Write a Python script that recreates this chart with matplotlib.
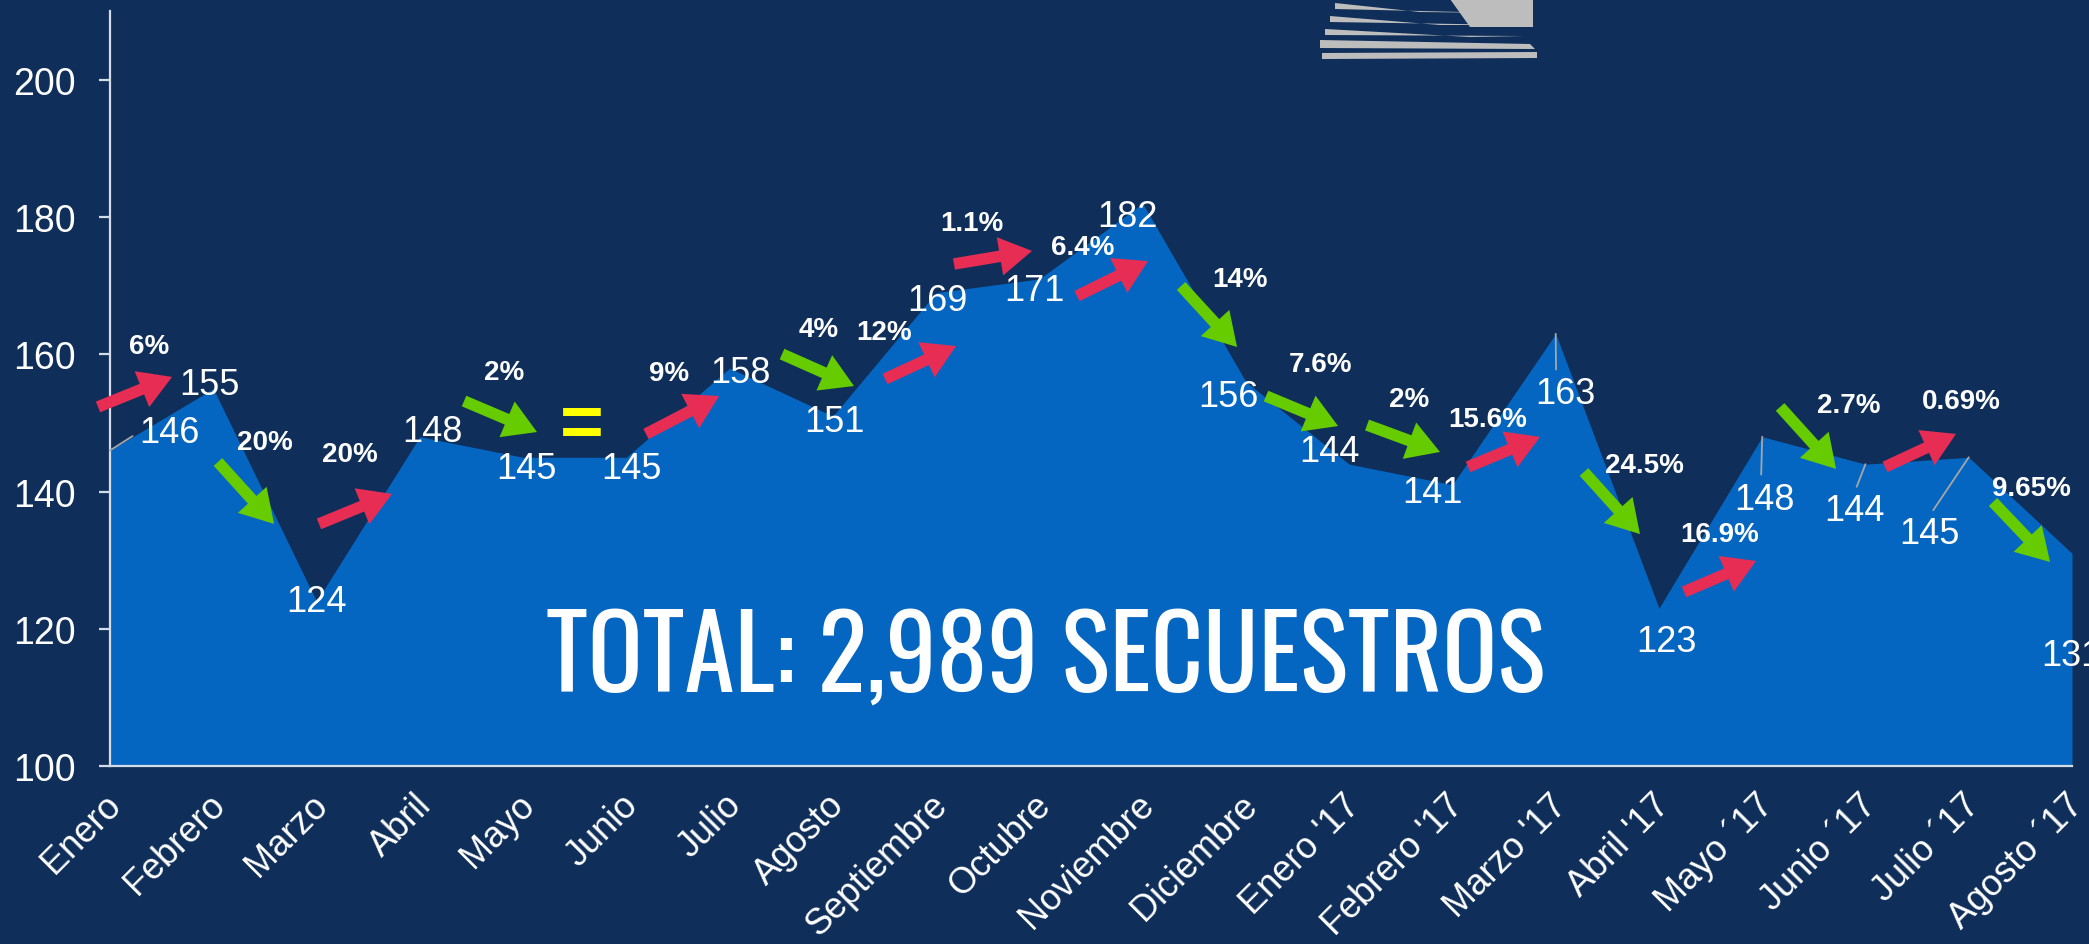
import matplotlib
matplotlib.use('Agg')
import matplotlib.pyplot as plt
import matplotlib.transforms as mtransforms
from matplotlib import font_manager as fm
from matplotlib.patches import Polygon
import numpy as np

# ---------------- data ----------------
meses = ['Enero', 'Febrero', 'Marzo', 'Abril', 'Mayo', 'Junio', 'Julio', 'Agosto',
         'Septiembre', 'Octubre', 'Noviembre', 'Diciembre', "Enero '17", "Febrero '17",
         "Marzo '17", "Abril '17", "Mayo \u00b417", "Junio \u00b417", "Julio \u00b417",
         "Agosto \u00b417"]
secuestros = [146, 155, 124, 148, 145, 145, 158, 151, 169, 171, 182, 156, 144, 141,
              163, 123, 148, 144, 145, 131]
cambios = ['6%', '20%', '20%', '2%', '=', '9%', '4%', '12%', '1.1%', '6.4%', '14%',
           '7.6%', '2%', '15.6%', '24.5%', '16.9%', '2.7%', '0.69%', '9.65%']
total_texto = 'TOTAL: 2,989 SECUESTROS'
y_ticks = [100, 120, 140, 160, 180, 200]

# ---------------- layout / style (offsets in points) ----------------
val_off = [(42.5, 13.2), (-2.4, 2.7), (0, 0), (8.8, 3.4), (2.2, -8.4), (3.4, -8.4),
           (7.5, -2.8), (0.9, -3.5), (0.6, -6.0), (-3.8, -8.0), (-11.2, -9.7),
           (-12.9, -10.2), (-14.5, 8.8), (-14.7, -5.3), (6.8, -43.3), (5.1, -24.3),
           (1.3, -44.9), (-8.2, -33.7), (-28.6, -55.2), (-0.7, -73.2)]
leader = {0: (0.0, 0.5), 14: (0.35, 1.0), 16: (0.45, 1.0), 17: (0.5, 1.0), 18: (0.5, 1.0)}
tail_off = [(-45.8, 9.1), (-33.8, 23.8), (-35.4, -3.5), (-5.3, 33.1), None, (-23.0, -15.3),
            (0.6, 27.4), (0.4, -17.7), (-24.3, 15.7), (-10.1, -39.5), (-9.5, 4.8),
            (-22.7, 19.4), (-24.3, 35.6), (-25.9, -41.5), (-16.8, -0.7), (-19.1, -50.0),
            (-24.3, 31.3), (-23.1, -4.5), (-19.7, 2.4)]
head_off = [(7.5, 30.7), (6.6, -20.8), (17.2, 18.1), (47.2, 10.8), None, (29.6, 12.0),
            (52.4, 4.4), (51.5, 6.0), (31.9, 25.1), (41.0, -14.3), (30.8, -39.1),
            (29.2, -2.2), (28.2, 16.2), (25.9, -19.9), (23.5, -45.4), (32.8, -27.7),
            (16.0, -13.3), (28.0, 19.3), (21.4, -40.8)]
pct_off = [(-9.1, 53.0), (0.1, 38.2), (-13.0, 46.9), (23.5, 54.0), (5.3, 22.5),
           (-6.4, 28.6), (27.2, 45.4), (-0.4, 16.1), (-11.3, 45.2), (-5.8, -4.2),
           (33.0, 9.9), (16.2, 42.5), (5.9, 54.4), (-11.5, -7.0), (26.4, 4.3),
           (6.8, -8.3), (25.3, 32.8), (31.6, 43.1), (7.7, 12.5)]

BG = '#0f2f5a'
AREA = '#0566c1'
RED = '#e82d55'
GREEN = '#66cc00'
YELLOW = '#ffff00'
AXIS = '#d5dce6'
LEAD = '#a6a6a6'

avail = {f.name for f in fm.fontManager.ttflist}


def pick(cands):
    for c in cands:
        if c in avail:
            return c
    return 'DejaVu Sans'


BASE = pick(['Liberation Sans', 'Arial', 'DejaVu Sans'])
COND = pick(['Oswald', 'Bebas Neue', 'Roboto Condensed', 'Liberation Sans Narrow',
             'Arial Narrow', 'Liberation Sans'])
plt.rcParams['font.family'] = [BASE, 'DejaVu Sans']

W, H = 2089, 945
fig = plt.figure(figsize=(W / 100, H / 100), dpi=100, facecolor=BG)
ax = fig.add_axes([110 / W, (H - 767) / H, (2072 - 110) / W, (767 - 12.4) / H])
ax.set_facecolor(BG)

x = np.arange(len(secuestros))
ax.fill_between(x, secuestros, 100, color=AREA, lw=0, zorder=1)
ax.set_xlim(0, len(secuestros) - 1)
ax.set_ylim(100, 210)

for s in ['top', 'right']:
    ax.spines[s].set_visible(False)
for s in ['left', 'bottom']:
    ax.spines[s].set_color(AXIS)
    ax.spines[s].set_linewidth(1.6)
    ax.spines[s].set_zorder(3)

ax.set_yticks(y_ticks)
ax.set_yticklabels([str(t) for t in y_ticks])
ax.tick_params(axis='y', colors=AXIS, labelcolor='white', labelsize=27,
               length=8, width=1.6, pad=17)
ax.set_xticks(x)
ax.set_xticklabels(meses, rotation=45, ha='right', va='center', rotation_mode='anchor')
ax.tick_params(axis='x', length=0, labelcolor='white', labelsize=26, pad=24)
shift = mtransforms.ScaledTranslation(6 / 100, 0, fig.dpi_scale_trans)
for lab in ax.get_xticklabels():
    lab.set_transform(lab.get_transform() + shift)

# value labels
for i, v in enumerate(secuestros):
    ap = None
    if i in leader:
        ap = dict(arrowstyle='-', color=LEAD, lw=1.3, shrinkA=3, shrinkB=0,
                  relpos=leader[i])
    ax.annotate(str(v), xy=(i, v), xytext=val_off[i], textcoords='offset points',
                ha='center', va='center', fontsize=26, color='white',
                arrowprops=ap, annotation_clip=False, zorder=5)


def off(dx, dy):
    return mtransforms.offset_copy(ax.transData, fig=fig, x=dx, y=dy, units='points')


# change arrows and percentage labels
for k, lab in enumerate(cambios):
    mx = k + 0.5
    my = (secuestros[k] + secuestros[k + 1]) / 2
    diff = secuestros[k + 1] - secuestros[k]
    if diff == 0:
        ax.annotate(lab, xy=(mx, my), xycoords=off(*pct_off[k]), ha='center',
                    va='center', fontsize=54, fontweight='bold', color=YELLOW,
                    annotation_clip=False, zorder=6)
        continue
    col = RED if diff > 0 else GREEN
    ax.annotate('', xy=(mx, my), xycoords=off(*head_off[k]),
                xytext=(mx, my), textcoords=off(*tail_off[k]),
                arrowprops=dict(arrowstyle='simple,head_length=1.3,head_width=1.55,tail_width=0.46',
                                fc=col, ec='none', mutation_scale=18, shrinkA=0, shrinkB=0),
                annotation_clip=False, zorder=6)
    ax.annotate(lab, xy=(mx, my), xycoords=off(*pct_off[k]), ha='center', va='center',
                fontsize=20, fontweight='bold', color='white', annotation_clip=False,
                zorder=6)

# big total text, fitted to its width in the reference
tt = ax.text(0.477, 0.142, total_texto, transform=ax.transAxes, ha='center', va='center',
             fontsize=70, color='white', family=COND,
             fontweight='normal' if COND in ('Oswald', 'Bebas Neue') else 'bold', zorder=4)
fig.canvas.draw()
wpx = tt.get_window_extent(fig.canvas.get_renderer()).width
tt.set_fontsize(70 * 1000 / wpx)

# logo fragment at the top (decoration)
def px(xp, yp):
    return (xp / W, 1 - yp / H)

GRAY = '#bdbdbd'
stripes = [
    [(1322, 54), (1537, 53), (1537, 59), (1322, 60)],
    [(1320, 41), (1530, 45), (1535, 50), (1320, 49)],
    [(1325, 30), (1470, 38), (1525, 37), (1325, 36)],
    [(1330, 17), (1440, 26), (1520, 26), (1330, 23)],
    [(1335, 4), (1420, 13), (1505, 14), (1335, 10)],
]
for st in stripes:
    fig.patches.append(Polygon([px(a, b) for a, b in st], closed=True, fc=GRAY, ec='none',
                               transform=fig.transFigure, figure=fig))
fig.patches.append(Polygon([px(1450, 0), px(1533, 0), px(1533, 28), px(1470, 28)],
                           closed=True, fc=GRAY, ec='none', transform=fig.transFigure,
                           figure=fig))

fig.savefig('out.png', dpi=100, facecolor=BG)
